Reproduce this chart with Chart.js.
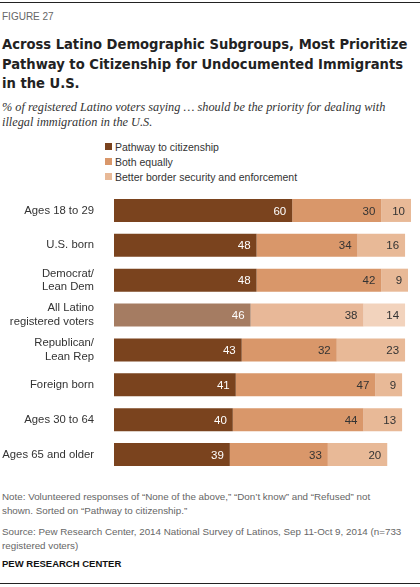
<!DOCTYPE html>
<html><head><meta charset="utf-8">
<script src="https://cdn.jsdelivr.net/npm/chart.js@4"></script>
<style>
body{margin:0;width:420px;height:587px;font-family:"Liberation Sans",Arial,sans-serif;background:#fff;position:relative;overflow:hidden}
.rule{position:absolute;left:0;width:420px;height:1px;background:#222}
.fig{position:absolute;left:2px;top:11px;font-size:10px;color:#666}
.title{position:absolute;left:2px;top:34px;width:416px;font-family:"DejaVu Sans Condensed","Liberation Sans",sans-serif;font-weight:bold;font-size:14.6px;line-height:19.5px;color:#222}
.sub{position:absolute;left:2px;top:100px;width:416px;font-family:"Liberation Serif",serif;font-style:italic;font-size:12.3px;line-height:15px;color:#333}
.leg{position:absolute;left:105px;top:139px;font-size:10.5px;color:#333}
.leg div{height:15px;display:flex;align-items:center}
.leg span{display:inline-block;width:7px;height:7px;margin-right:3px}
.note{position:absolute;left:2px;top:490px;width:392px;font-size:9.8px;line-height:13.5px;color:#666}
.src{position:absolute;left:2px;top:525px;width:416px;font-size:9.8px;line-height:13.5px;color:#666}
.pew{position:absolute;left:2px;top:558px;font-size:9.5px;font-weight:bold;color:#111}
#c{position:absolute;left:0;top:193px}
</style></head><body>
<div class="rule" style="top:2px"></div>
<div class="fig">FIGURE 27</div>
<div class="title">Across Latino Demographic Subgroups, Most Prioritize Pathway to Citizenship for Undocumented Immigrants in the U.S.</div>
<div class="sub">% of registered Latino voters saying … should be the priority for dealing with illegal immigration in the U.S.</div>
<div class="leg">
<div><span style="background:#7a431e"></span>Pathway to citizenship</div>
<div><span style="background:#d9976a"></span>Both equally</div>
<div><span style="background:#e8b997"></span>Better border security and enforcement</div>
</div>
<canvas id="c" width="420" height="279"></canvas>
<div class="note">Note: Volunteered responses of “None of the above,” “Don’t know” and “Refused” not shown. Sorted on “Pathway to citizenship.”</div>
<div class="src">Source: Pew Research Center, 2014 National Survey of Latinos, Sep 11-Oct 9, 2014 (n=733 registered voters)</div>
<div class="pew">PEW RESEARCH CENTER</div>
<div class="rule" style="top:583px"></div>
<script>
const categories=[["Ages 18 to 29"],["U.S. born"],["Democrat/","Lean Dem"],["All Latino","registered voters"],["Republican/","Lean Rep"],["Foreign born"],["Ages 30 to 64"],["Ages 65 and older"]];
const pathway=[60,48,48,46,43,41,40,39];
const both=[30,34,42,38,32,47,44,33];
const border=[10,16,9,14,23,9,13,20];
const seriesNames=["Pathway to citizenship","Both equally","Better border security and enforcement"];
const hl=3;
function cols(n,h){return categories.map((_,i)=>i===hl?h:n);}
const labelPlugin={id:'lbl',afterDatasetsDraw(ch){const ctx=ch.ctx;ctx.save();ctx.font='11.5px "Liberation Sans",Arial';ctx.textAlign='right';ctx.textBaseline='middle';
ch.data.datasets.forEach((ds,di)=>{ch.getDatasetMeta(di).data.forEach((el,i)=>{ctx.fillStyle=di===0?'#fff':'#333';ctx.fillText(ds.data[i],el.x-6,el.y+1);});});ctx.restore();}};
new Chart(document.getElementById('c'),{type:'bar',
data:{labels:categories,datasets:[
{label:seriesNames[0],data:pathway,backgroundColor:cols('#7a431e','#a57c62')},
{label:seriesNames[1],data:both,backgroundColor:cols('#d9976a','#e8b898')},
{label:seriesNames[2],data:border,backgroundColor:cols('#e8b997','#f2d3bd')}]},
options:{indexAxis:'y',responsive:false,animation:false,
layout:{padding:{left:0,right:9,top:0,bottom:0}},
datasets:{bar:{categoryPercentage:0.66,barPercentage:1}},
plugins:{legend:{display:false},tooltip:{enabled:false}},
scales:{x:{stacked:true,min:0,max:100,display:false},
y:{stacked:true,grid:{display:false},border:{display:false},afterFit(s){s.width=114;s.paddingTop=0;s.paddingBottom=0;},
ticks:{color:'#333',font:{size:11.3,family:'"Liberation Sans",Arial'},padding:12}}}},
plugins:[labelPlugin]});
</script></body></html>
